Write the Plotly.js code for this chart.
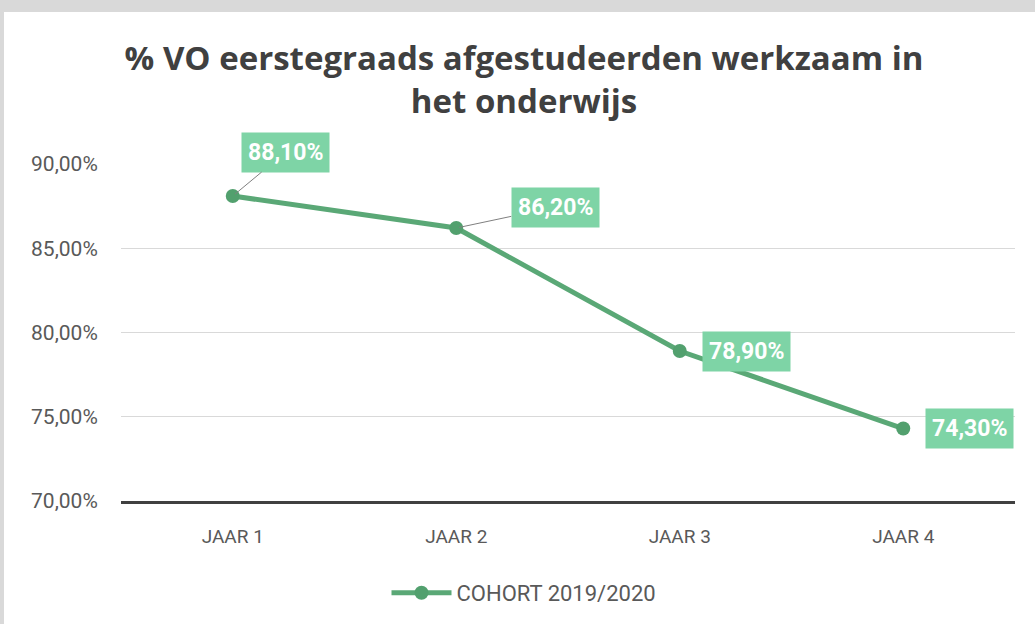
<!DOCTYPE html>
<html>
<head>
<meta charset="utf-8">
<script src="https://cdn.plot.ly/plotly-3.0.1.min.js"></script>
<style>
  html, body { margin: 0; padding: 0; background: #d9d9d9; width: 1035px; height: 624px; overflow: hidden; }
  #chart { position: absolute; left: 4px; top: 12px; width: 1031px; height: 612px; background: #ffffff; }
</style>
</head>
<body>
<div id="chart"></div>
<script>
// ---- data ----
const categories = ["JAAR 1", "JAAR 2", "JAAR 3", "JAAR 4"];
const values = [88.1, 86.2, 78.9, 74.3];
const seriesName = "COHORT 2019/2020";
const yTicks = [70, 75, 80, 85, 90];
const chartTitle = "% VO eerstegraads afgestudeerden werkzaam in<br>het onderwijs";

// ---- label placement (styling only, pixel offsets) ----
const labelOffsets = [[53, -44], [99, -21], [67, 0], [66, 0]];
const labelLeader = [true, true, false, false];

const fmt = v => v.toFixed(2).replace('.', ',') + '%';

const trace = {
  x: categories,
  y: values,
  type: 'scatter',
  mode: 'lines+markers',
  name: seriesName,
  line: { color: '#5aa876', width: 5 },
  marker: { color: '#52a06e', size: 14 },
  cliponaxis: false,
  hoverinfo: 'skip'
};

const annotations = categories.map((c, i) => ({
  x: c, y: values[i], xref: 'x', yref: 'y',
  text: '<b>' + fmt(values[i]) + '</b>',
  showarrow: true,
  ax: labelOffsets[i][0], ay: labelOffsets[i][1],
  axref: 'pixel', ayref: 'pixel',
  arrowhead: 0, arrowwidth: 1,
  arrowcolor: labelLeader[i] ? '#808080' : 'rgba(0,0,0,0)',
  standoff: 3,
  bgcolor: '#7ed4a6',
  borderpad: 6,
  font: { family: 'Roboto, "Open Sans", sans-serif', size: 23, color: '#ffffff' }
}));

const layout = {
  width: 1031, height: 612,
  margin: { l: 117, r: 20, t: 152, b: 123 },
  paper_bgcolor: '#ffffff',
  plot_bgcolor: '#ffffff',
  separators: ',.',
  title: {
    text: '<b>' + chartTitle + '</b>',
    font: { family: '"Open Sans", sans-serif', size: 33, color: '#404040' },
    xref: 'container', x: 520 / 1031, xanchor: 'center',
    yref: 'container', y: 1 - 58 / 612, yanchor: 'middle'
  },
  xaxis: {
    type: 'category',
    range: [-0.5, 3.5],
    showgrid: false,
    showline: true, linecolor: '#404040', linewidth: 3,
    ticks: 'outside', ticklen: 16, tickcolor: 'rgba(0,0,0,0)',
    tickfont: { family: '"Liberation Sans Narrow", "Roboto", sans-serif', size: 19, color: '#595959' },
    zeroline: false, fixedrange: true
  },
  yaxis: {
    range: [70, 90],
    tickvals: yTicks,
    ticktext: yTicks.map(fmt),
    showgrid: true, gridcolor: '#d9d9d9', gridwidth: 1,
    showline: false, zeroline: false,
    ticks: 'outside', ticklen: 18, tickcolor: 'rgba(0,0,0,0)',
    tickfont: { family: 'Roboto, "Open Sans", sans-serif', size: 21, color: '#595959' },
    fixedrange: true
  },
  showlegend: true,
  legend: {
    orientation: 'h',
    xref: 'container', x: 520 / 1031, xanchor: 'center',
    yref: 'container', y: 1 - 581 / 612, yanchor: 'middle',
    itemwidth: 60,
    font: { family: '"Liberation Sans Narrow", "Roboto", sans-serif', size: 22, color: '#595959' }
  },
  annotations: annotations
};

Plotly.newPlot('chart', [trace], layout, { displayModeBar: false, staticPlot: true });
</script>
</body>
</html>
